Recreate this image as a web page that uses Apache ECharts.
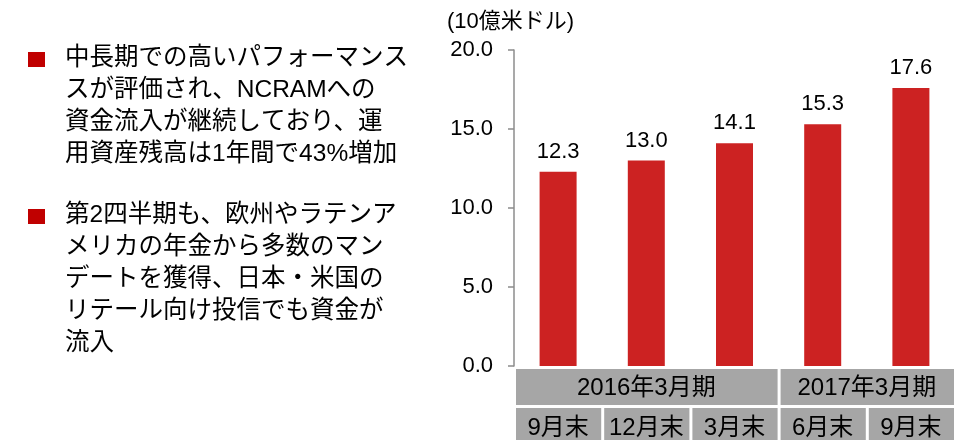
<!DOCTYPE html>
<html>
<head>
<meta charset="utf-8">
<script src="https://cdn.jsdelivr.net/npm/echarts@6/dist/echarts.min.js"></script>
<style>
  html, body { margin: 0; padding: 0; background: #fff; }
  #chart { width: 955px; height: 440px; }
</style>
</head>
<body>
<div id="chart"></div>
<script>
const months = ['9月末', '12月末', '3月末', '6月末', '9月末'];
const assets = [12.3, 13.0, 14.1, 15.3, 17.6];
const fiscalYears = ['2016年3月期', '2017年3月期'];
const fiscalSpan = [3, 2];
const unitLabel = '(10億米ドル)';
const notes = [
  ['中長期での高いパフォーマンス', 'スが評価され、NCRAMへの', '資金流入が継続しており、運', '用資産残高は1年間で43%増加'],
  ['第2四半期も、欧州やラテンア', 'メリカの年金から多数のマン', 'デートを獲得、日本・米国の', 'リテール向け投信でも資金が', '流入']
];

const FONT = '"Liberation Sans", Arial, "Noto Sans CJK JP", sans-serif';
const chart = echarts.init(document.getElementById('chart'));

const option = {
  animation: false,
  grid: { left: 514, top: 50, width: 446, height: 316 },
  xAxis: {
    type: 'category',
    data: months,
    axisLine: { show: false },
    axisTick: { show: false },
    axisLabel: { show: false }
  },
  yAxis: {
    type: 'value',
    min: 0,
    max: 20,
    interval: 5,
    splitLine: { show: false },
    axisLine: { show: true, lineStyle: { color: '#8c8c8c', width: 1.5 } },
    axisTick: { show: true, length: 6, lineStyle: { color: '#8c8c8c', width: 1.5 } },
    axisLabel: {
      margin: 21,
      color: '#000',
      fontSize: 22,
      fontFamily: FONT,
      formatter: v => v.toFixed(1)
    }
  },
  series: [{
    type: 'bar',
    data: assets,
    barWidth: 37,
    itemStyle: { color: '#cc2222' },
    label: {
      show: true,
      position: 'top',
      distance: 9,
      color: '#000',
      fontSize: 22,
      fontFamily: FONT,
      formatter: p => p.value.toFixed(1)
    }
  }]
};
chart.setOption(option);

// boxes under the axis, placed from the category scale
const c0 = chart.convertToPixel({ xAxisIndex: 0 }, 0);
const c1 = chart.convertToPixel({ xAxisIndex: 0 }, 1);
const band = c1 - c0;
const left0 = c0 - band / 2;
const graphic = [];

function box(x0, x1, y, h, text) {
  graphic.push({
    type: 'rect',
    shape: { x: x0 + 2, y: y, width: x1 - x0 - 3, height: h },
    style: { fill: '#a6a6a6' }
  });
  graphic.push({
    type: 'text',
    x: (x0 + x1) / 2,
    y: y + h / 2 + 1,
    style: { text: text, fill: '#000', font: '24px ' + FONT, align: 'center', verticalAlign: 'middle' }
  });
}

let start = 0;
fiscalYears.forEach((fy, i) => {
  box(left0 + start * band, left0 + (start + fiscalSpan[i]) * band, 369, 36, fy);
  start += fiscalSpan[i];
});
months.forEach((m, i) => {
  box(left0 + i * band, left0 + (i + 1) * band, 408, 38, m);
});

graphic.push({
  type: 'text', x: 447, y: 22,
  style: { text: unitLabel, fill: '#000', font: '22px ' + FONT, align: 'left', verticalAlign: 'middle' }
});

const noteTops = [42, 199];
notes.forEach((lines, i) => {
  graphic.push({
    type: 'rect',
    shape: { x: 28, y: noteTops[i] + 10, width: 17, height: 15 },
    style: { fill: '#c00000' }
  });
  graphic.push({
    type: 'text', x: 65, y: noteTops[i],
    style: { text: lines.join('\n'), fill: '#000', font: '24.5px ' + FONT, lineHeight: 32, align: 'left', verticalAlign: 'top' }
  });
});

chart.setOption({ graphic: graphic });
window.addEventListener('resize', () => chart.resize());
</script>
</body>
</html>
